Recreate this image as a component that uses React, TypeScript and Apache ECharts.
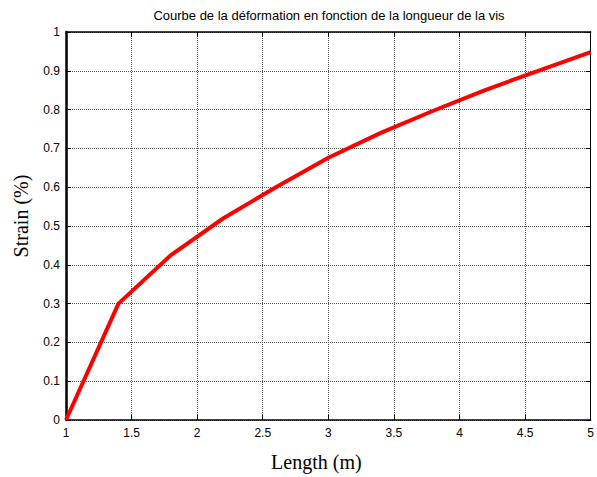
import React, { useEffect, useRef } from "react";
import * as echarts from "echarts";

const titleText = "Courbe de la déformation en fonction de la longueur de la vis";
const xName = "Length (m)";
const yName = "Strain (%)";
const lengthValues = [1, 1.4, 1.8, 2.2, 2.6, 3.0, 3.4, 3.8, 4.2, 4.6, 5.0];
const strainValues = [0, 0.3, 0.425, 0.52, 0.6, 0.676, 0.74, 0.797, 0.851, 0.9, 0.948];

export default function App() {
  const ref = useRef<HTMLDivElement>(null);
  useEffect(() => {
    document.body.style.margin = "0";
    const chart = echarts.init(ref.current!, null, { renderer: "svg" });
    const labelFont = { fontFamily: "Liberation Sans, Arial", fontSize: 12, color: "#000" };
    const nameFont = { fontFamily: "Liberation Serif, Times New Roman", fontSize: 20, color: "#000" };
    chart.setOption({
      animation: false,
      backgroundColor: "#fff",
      grid: { left: 66, right: 4, top: 32, bottom: 56, containLabel: false },
      graphic: [
        {
          type: "text",
          x: 329,
          y: 9,
          style: {
            text: titleText,
            align: "center",
            verticalAlign: "top",
            font: "13px 'Liberation Sans', Arial",
            fill: "#000",
          },
        },
      ],
      xAxis: [
        {
          type: "value",
          min: 1,
          max: 5,
          interval: 0.5,
          name: xName,
          nameLocation: "middle",
          nameGap: 32,
          nameTextStyle: { ...nameFont, padding: [0, 24, 0, 0] },
          axisLine: { show: true, onZero: false, lineStyle: { color: "#000", width: 1.5 } },
          axisTick: { show: true, inside: true, length: 5, lineStyle: { color: "#000" } },
          axisLabel: { ...labelFont, margin: 7 },
          splitLine: { show: true, lineStyle: { color: "#555", type: [1, 1], width: 1 } },
        },
        {
          type: "value",
          position: "top",
          min: 1,
          max: 5,
          interval: 0.5,
          axisLine: { show: true, onZero: false, lineStyle: { color: "#000", width: 1.5 } },
          axisTick: { show: true, inside: true, length: 5, lineStyle: { color: "#000" } },
          axisLabel: { show: false },
          splitLine: { show: false },
        },
      ],
      yAxis: [
        {
          type: "value",
          min: 0,
          max: 1,
          interval: 0.1,
          name: yName,
          nameLocation: "middle",
          nameGap: 35,
          nameRotate: 90,
          nameTextStyle: { ...nameFont, padding: [0, 0, 0, 20] },
          axisLine: { show: true, onZero: false, lineStyle: { color: "#000", width: 2.5 } },
          axisTick: { show: true, inside: true, length: 5, lineStyle: { color: "#000" } },
          axisLabel: { ...labelFont, margin: 6 },
          splitLine: { show: true, lineStyle: { color: "#555", type: [1, 1], width: 1 } },
        },
        {
          type: "value",
          position: "right",
          min: 0,
          max: 1,
          interval: 0.1,
          axisLine: { show: true, onZero: false, lineStyle: { color: "#000", width: 1 } },
          axisTick: { show: true, inside: true, length: 5, lineStyle: { color: "#000" } },
          axisLabel: { show: false },
          splitLine: { show: false },
        },
      ],
      series: [
        {
          type: "line",
          data: lengthValues.map((x, i) => [x, strainValues[i]]),
          showSymbol: false,
          lineStyle: { color: "#ff0000", width: 4 },
          clip: false,
        },
      ],
    });
    return () => chart.dispose();
  }, []);
  return <div ref={ref} style={{ width: 597, height: 477 }} />;
}
